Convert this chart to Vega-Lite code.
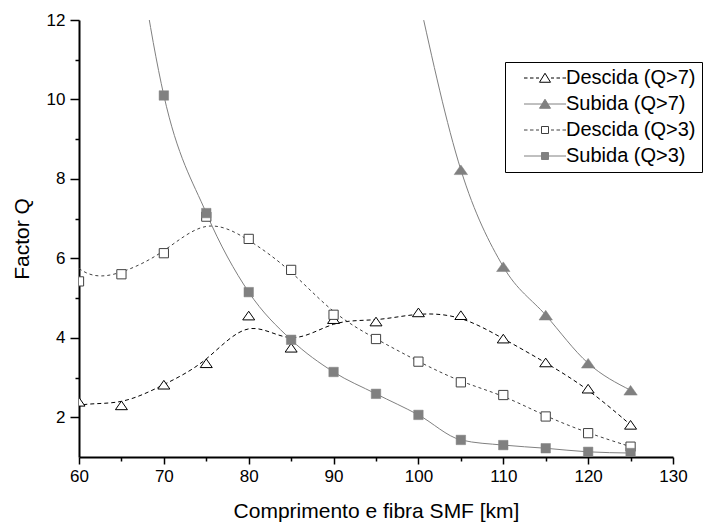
{
  "$schema": "https://vega.github.io/schema/vega-lite/v6.json",
  "width": 594,
  "height": 437,
  "autosize": "none",
  "padding": {"left": 79, "top": 20, "right": 34, "bottom": 68},
  "config": {
    "font": "Liberation Sans",
    "view": {"stroke": null},
    "axis": {"grid": false, "labelFlush": false, "labelOverlap": false, "domainColor": "black", "tickColor": "black", "labelColor": "black", "titleColor": "black", "titleFontWeight": "normal"}
  },
  "data": {
    "values": [
      {"serie": "Descida (Q>7)", "km": 55, "q": 1.96},
      {"serie": "Descida (Q>7)", "km": 60, "q": 2.39},
      {"serie": "Descida (Q>7)", "km": 65, "q": 2.30},
      {"serie": "Descida (Q>7)", "km": 70, "q": 2.82},
      {"serie": "Descida (Q>7)", "km": 75, "q": 3.36},
      {"serie": "Descida (Q>7)", "km": 80, "q": 4.56},
      {"serie": "Descida (Q>7)", "km": 85, "q": 3.75},
      {"serie": "Descida (Q>7)", "km": 90, "q": 4.47},
      {"serie": "Descida (Q>7)", "km": 95, "q": 4.41},
      {"serie": "Descida (Q>7)", "km": 100, "q": 4.64},
      {"serie": "Descida (Q>7)", "km": 105, "q": 4.57},
      {"serie": "Descida (Q>7)", "km": 110, "q": 3.98},
      {"serie": "Descida (Q>7)", "km": 115, "q": 3.38},
      {"serie": "Descida (Q>7)", "km": 120, "q": 2.72},
      {"serie": "Descida (Q>7)", "km": 125, "q": 1.81},
      {"serie": "Subida (Q>7)", "km": 100, "q": 12.6},
      {"serie": "Subida (Q>7)", "km": 105, "q": 8.23},
      {"serie": "Subida (Q>7)", "km": 110, "q": 5.79},
      {"serie": "Subida (Q>7)", "km": 115, "q": 4.57},
      {"serie": "Subida (Q>7)", "km": 120, "q": 3.36},
      {"serie": "Subida (Q>7)", "km": 125, "q": 2.68},
      {"serie": "Descida (Q>3)", "km": 55, "q": 7.2},
      {"serie": "Descida (Q>3)", "km": 60, "q": 5.42},
      {"serie": "Descida (Q>3)", "km": 65, "q": 5.60},
      {"serie": "Descida (Q>3)", "km": 70, "q": 6.13},
      {"serie": "Descida (Q>3)", "km": 75, "q": 7.05},
      {"serie": "Descida (Q>3)", "km": 80, "q": 6.49},
      {"serie": "Descida (Q>3)", "km": 85, "q": 5.71},
      {"serie": "Descida (Q>3)", "km": 90, "q": 4.58},
      {"serie": "Descida (Q>3)", "km": 95, "q": 3.97},
      {"serie": "Descida (Q>3)", "km": 100, "q": 3.40},
      {"serie": "Descida (Q>3)", "km": 105, "q": 2.88},
      {"serie": "Descida (Q>3)", "km": 110, "q": 2.56},
      {"serie": "Descida (Q>3)", "km": 115, "q": 2.02},
      {"serie": "Descida (Q>3)", "km": 120, "q": 1.60},
      {"serie": "Descida (Q>3)", "km": 125, "q": 1.26},
      {"serie": "Subida (Q>3)", "km": 65, "q": 16.6},
      {"serie": "Subida (Q>3)", "km": 70, "q": 10.1},
      {"serie": "Subida (Q>3)", "km": 75, "q": 7.14},
      {"serie": "Subida (Q>3)", "km": 80, "q": 5.15},
      {"serie": "Subida (Q>3)", "km": 85, "q": 3.95},
      {"serie": "Subida (Q>3)", "km": 90, "q": 3.14},
      {"serie": "Subida (Q>3)", "km": 95, "q": 2.59},
      {"serie": "Subida (Q>3)", "km": 100, "q": 2.06},
      {"serie": "Subida (Q>3)", "km": 105, "q": 1.43},
      {"serie": "Subida (Q>3)", "km": 110, "q": 1.30},
      {"serie": "Subida (Q>3)", "km": 115, "q": 1.22},
      {"serie": "Subida (Q>3)", "km": 120, "q": 1.13},
      {"serie": "Subida (Q>3)", "km": 125, "q": 1.10}
    ]
  },
  "resolve": {"axis": {"x": "independent", "y": "independent"}},
  "layer": [
    {
      "transform": [{"filter": "datum.serie === 'Descida (Q>7)'"}],
      "mark": {"type": "line", "interpolate": "basis", "stroke": "black", "strokeWidth": 1, "strokeDash": [4, 3], "clip": true},
      "encoding": {
        "x": {"field": "km", "type": "quantitative", "scale": {"domain": [60, 130], "nice": false, "zero": false},
          "axis": {"orient": "bottom", "values": [60, 70, 80, 90, 100, 110, 120, 130], "title": "Comprimento e fibra SMF [km]", "labelFontSize": 17, "titleFontSize": 21, "tickSize": 7, "tickWidth": 1.5, "domainWidth": 2, "labelPadding": 4, "titlePadding": 16}},
        "y": {"field": "q", "type": "quantitative", "scale": {"domain": [1, 12], "nice": false, "zero": false},
          "axis": {"orient": "left", "values": [2, 4, 6, 8, 10, 12], "title": "Factor Q", "labelFontSize": 17, "titleFontSize": 21, "tickSize": 9, "tickWidth": 1.5, "domainWidth": 2, "labelPadding": 5, "titlePadding": 14}},
        "order": {"field": "km", "type": "quantitative"}
      }
    },
    {
      "transform": [{"filter": "datum.serie === 'Descida (Q>3)'"}],
      "mark": {"type": "line", "interpolate": "basis", "stroke": "#404040", "strokeWidth": 1, "strokeDash": [3, 3], "clip": true},
      "encoding": {
        "x": {"field": "km", "type": "quantitative", "axis": null},
        "y": {"field": "q", "type": "quantitative", "axis": null},
        "order": {"field": "km", "type": "quantitative"}
      }
    },
    {
      "transform": [{"filter": "datum.serie === 'Subida (Q>7)'"}],
      "mark": {"type": "line", "interpolate": "monotone", "stroke": "#808080", "strokeWidth": 1, "clip": true},
      "encoding": {
        "x": {"field": "km", "type": "quantitative", "axis": null},
        "y": {"field": "q", "type": "quantitative", "axis": null},
        "order": {"field": "km", "type": "quantitative"}
      }
    },
    {
      "transform": [{"filter": "datum.serie === 'Subida (Q>3)'"}],
      "mark": {"type": "line", "interpolate": "monotone", "stroke": "#808080", "strokeWidth": 1, "clip": true},
      "encoding": {
        "x": {"field": "km", "type": "quantitative", "axis": null},
        "y": {"field": "q", "type": "quantitative", "axis": null},
        "order": {"field": "km", "type": "quantitative"}
      }
    },
    {
      "transform": [{"filter": "datum.serie === 'Descida (Q>7)'"}],
      "mark": {"type": "point", "shape": "M0,-0.72L1,0.72L-1,0.72Z", "filled": true, "fill": "white", "stroke": "black", "strokeWidth": 1, "size": 144, "opacity": 1, "clip": true},
      "encoding": {
        "x": {"field": "km", "type": "quantitative", "axis": null},
        "y": {"field": "q", "type": "quantitative", "axis": null}
      }
    },
    {
      "transform": [{"filter": "datum.serie === 'Descida (Q>3)'"}],
      "mark": {"type": "point", "shape": "square", "filled": true, "fill": "white", "stroke": "#404040", "strokeWidth": 1, "size": 85, "opacity": 1, "clip": true},
      "encoding": {
        "x": {"field": "km", "type": "quantitative", "axis": null},
        "y": {"field": "q", "type": "quantitative", "axis": null}
      }
    },
    {
      "transform": [{"filter": "datum.serie === 'Subida (Q>7)'"}],
      "mark": {"type": "point", "shape": "M0,-0.72L1,0.72L-1,0.72Z", "filled": true, "fill": "#808080", "stroke": "#808080", "strokeWidth": 0.5, "size": 180, "opacity": 1, "clip": true},
      "encoding": {
        "x": {"field": "km", "type": "quantitative", "axis": null},
        "y": {"field": "q", "type": "quantitative", "axis": null}
      }
    },
    {
      "transform": [{"filter": "datum.serie === 'Subida (Q>3)'"}],
      "mark": {"type": "point", "shape": "square", "filled": true, "fill": "#808080", "stroke": "#808080", "strokeWidth": 0.5, "size": 90, "opacity": 1, "clip": true},
      "encoding": {
        "x": {"field": "km", "type": "quantitative", "axis": null},
        "y": {"field": "q", "type": "quantitative", "axis": null}
      }
    },
    {
      "transform": [{"filter": "datum.km < 0"}],
      "mark": {"type": "point", "filled": true, "size": 100, "strokeWidth": 1, "opacity": 1},
      "encoding": {
        "x": {"field": "km", "type": "quantitative",
          "axis": {"orient": "bottom", "values": [65, 75, 85, 95, 105, 115, 125], "labels": false, "domain": false, "title": null, "tickSize": 4, "tickWidth": 1.5}},
        "y": {"field": "q", "type": "quantitative",
          "axis": {"orient": "left", "values": [3, 5, 7, 9, 11], "labels": false, "domain": false, "title": null, "tickSize": 4, "tickWidth": 1.5}},
        "shape": {"field": "serie", "type": "nominal",
          "scale": {"domain": ["Descida (Q>7)", "Subida (Q>7)", "Descida (Q>3)", "Subida (Q>3)"],
            "range": [
              "M-4.2,0H-3.5M-3,0H-2.3M-1.8,0H-1.2M0,-0.95L1.1,0.85L-1.1,0.85ZM1.2,0H1.8M2.3,0H3M3.5,0H4.2",
              "M-4.2,0H4.2M0,-0.95L1.1,0.85L-1.1,0.85Z",
              "M-4.2,0H-3.5M-3,0H-2.3M-1.8,0H-1.2M-0.7,-0.7H0.7V0.7H-0.7ZM1.2,0H1.8M2.3,0H3M3.5,0H4.2",
              "M-4.2,0H4.2M-0.7,-0.7H0.7V0.7H-0.7Z"
            ]},
          "legend": {"orient": "none", "legendX": 426, "legendY": 42, "title": null, "labelFontSize": 20, "labelColor": "black", "strokeColor": "black", "padding": 6, "symbolSize": 100, "symbolStrokeWidth": 1, "symbolOffset": 24, "labelOffset": 11, "rowPadding": 6}},
        "stroke": {"field": "serie", "type": "nominal",
          "scale": {"domain": ["Descida (Q>7)", "Subida (Q>7)", "Descida (Q>3)", "Subida (Q>3)"], "range": ["black", "#808080", "#404040", "#808080"]},
          "legend": {"orient": "none", "legendX": 426, "legendY": 42, "title": null, "labelFontSize": 20, "labelColor": "black", "strokeColor": "black", "padding": 6, "symbolSize": 100, "symbolStrokeWidth": 1, "symbolOffset": 24, "labelOffset": 11, "rowPadding": 6}},
        "fill": {"field": "serie", "type": "nominal",
          "scale": {"domain": ["Descida (Q>7)", "Subida (Q>7)", "Descida (Q>3)", "Subida (Q>3)"], "range": ["white", "#808080", "white", "#808080"]},
          "legend": {"orient": "none", "legendX": 426, "legendY": 42, "title": null, "labelFontSize": 20, "labelColor": "black", "strokeColor": "black", "padding": 6, "symbolSize": 100, "symbolStrokeWidth": 1, "symbolOffset": 24, "labelOffset": 11, "rowPadding": 6}}
      }
    }
  ]
}
